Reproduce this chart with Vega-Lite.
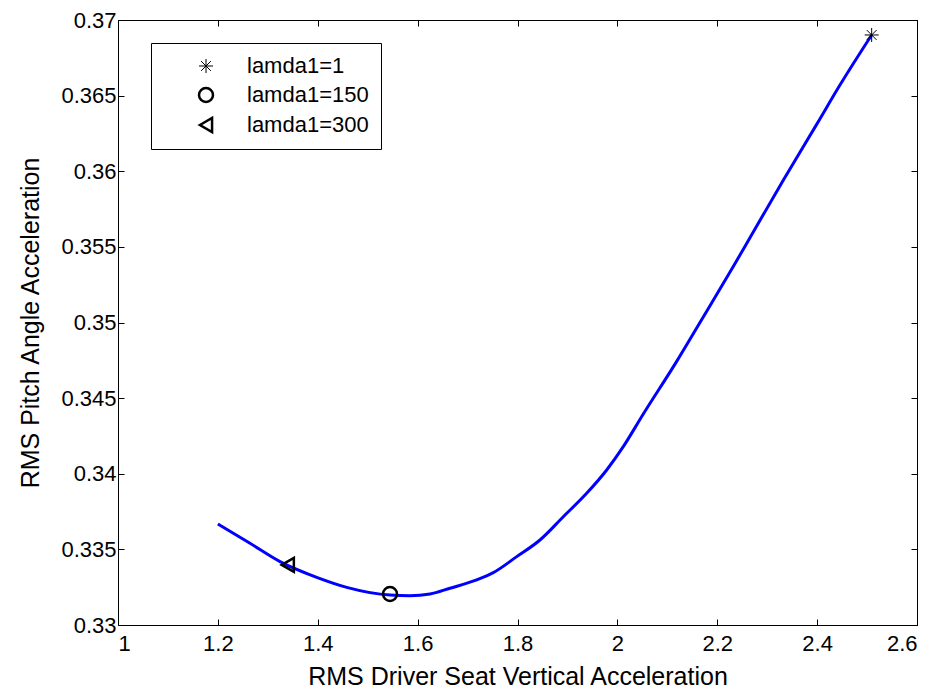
{
  "$schema": "https://vega.github.io/schema/vega-lite/v6.json",
  "autosize": {"type": "none"},
  "padding": {"left": 118, "top": 20, "right": 20, "bottom": 70},
  "width": 799,
  "height": 605,
  "background": "white",
  "config": {
    "view": {"stroke": "black", "strokeWidth": 1},
    "font": "Liberation Sans",
    "axis": {
      "grid": false,
      "domainColor": "black",
      "domainWidth": 1,
      "tickColor": "black",
      "tickWidth": 1,
      "tickSize": -6,
      "labelColor": "black",
      "labelFont": "Liberation Sans",
      "labelFontSize": 22,
      "titleFont": "Liberation Sans",
      "titleFontSize": 25,
      "titleFontWeight": "normal",
      "titleColor": "black"
    },
    "legend": {
      "labelFont": "Liberation Sans",
      "labelFontSize": 22,
      "labelColor": "black"
    }
  },
  "datasets": {
    "curve": [
      {"x": 1.2, "y": 0.33668},
      {"x": 1.2643, "y": 0.3354},
      {"x": 1.3244, "y": 0.33419},
      {"x": 1.3979, "y": 0.33315},
      {"x": 1.458, "y": 0.33249},
      {"x": 1.5447, "y": 0.33198},
      {"x": 1.5847, "y": 0.33194},
      {"x": 1.6248, "y": 0.33205},
      {"x": 1.6648, "y": 0.33243},
      {"x": 1.7183, "y": 0.33298},
      {"x": 1.7515, "y": 0.33346},
      {"x": 1.7984, "y": 0.33452},
      {"x": 1.845, "y": 0.33562},
      {"x": 1.8917, "y": 0.33716},
      {"x": 1.9385, "y": 0.33871},
      {"x": 1.9786, "y": 0.34025},
      {"x": 2.0118, "y": 0.34179},
      {"x": 2.0519, "y": 0.34395},
      {"x": 2.1188, "y": 0.34743},
      {"x": 2.1654, "y": 0.35},
      {"x": 2.2321, "y": 0.3537},
      {"x": 2.2655, "y": 0.3556},
      {"x": 2.3322, "y": 0.3594},
      {"x": 2.3991, "y": 0.3631},
      {"x": 2.4457, "y": 0.3657},
      {"x": 2.5092, "y": 0.36901}
    ],
    "markers": [
      {"x": 2.5092, "y": 0.36901, "label": "lamda1=1"},
      {"x": 1.5447, "y": 0.33205, "label": "lamda1=150"},
      {"x": 1.34, "y": 0.33397, "label": "lamda1=300"}
    ]
  },
  "layer": [
    {
      "data": {"name": "curve"},
      "mark": {"type": "line", "color": "#0000FF", "strokeWidth": 3, "clip": true, "interpolate": "monotone"},
      "encoding": {
        "x": {
          "field": "x", "type": "quantitative",
          "scale": {"domain": [1, 2.6], "nice": false, "zero": false},
          "axis": {
            "orient": "bottom",
            "title": "RMS Driver Seat Vertical Acceleration",
            "values": [1, 1.2, 1.4, 1.6, 1.8, 2, 2.2, 2.4, 2.6],
            "format": "~g",
            "labelPadding": 14,
            "titlePadding": 10
          }
        },
        "y": {
          "field": "y", "type": "quantitative",
          "scale": {"domain": [0.33, 0.37], "nice": false, "zero": false},
          "axis": {
            "orient": "left",
            "title": "RMS Pitch Angle Acceleration",
            "values": [0.33, 0.335, 0.34, 0.345, 0.35, 0.355, 0.36, 0.365, 0.37],
            "format": "~g",
            "labelPadding": 8,
            "titlePadding": 17
          }
        },
        "order": {"field": "x", "type": "quantitative"}
      }
    },
    {
      "data": {"name": "markers"},
      "mark": {"type": "point", "filled": false, "color": "black", "opacity": 1},
      "encoding": {
        "x": {
          "field": "x", "type": "quantitative",
          "scale": {"domain": [1, 2.6], "nice": false, "zero": false},
          "axis": {"orient": "top", "labels": false, "title": null, "values": [1, 1.2, 1.4, 1.6, 1.8, 2, 2.2, 2.4, 2.6]}
        },
        "y": {
          "field": "y", "type": "quantitative",
          "scale": {"domain": [0.33, 0.37], "nice": false, "zero": false},
          "axis": {"orient": "right", "labels": false, "title": null, "values": [0.33, 0.335, 0.34, 0.345, 0.35, 0.355, 0.36, 0.365, 0.37]}
        },
        "shape": {
          "field": "label", "type": "nominal",
          "scale": {
            "domain": ["lamda1=1", "lamda1=150", "lamda1=300"],
            "range": ["M-1,0L1,0M0,-1L0,1M-0.7,-0.7L0.7,0.7M-0.7,0.7L0.7,-0.7", "circle", "triangle-left"]
          },
          "legend": {
            "title": null,
            "orient": "none",
            "legendX": 33,
            "legendY": 23,
            "strokeColor": "black",
            "fillColor": "white",
            "padding": 12,
            "symbolOffset": 32,
            "labelOffset": 30,
            "rowPadding": 6,
            "symbolSize": 196,
            "symbolStrokeColor": "black"
          }
        },
        "strokeWidth": {
          "field": "label", "type": "ordinal",
          "scale": {"type": "ordinal", "domain": ["lamda1=1", "lamda1=150", "lamda1=300"], "range": [1, 2.5, 2.5]},
          "legend": {"title": null}
        },
        "size": {"value": 196}
      }
    }
  ],
  "resolve": {"axis": {"x": "independent", "y": "independent"}}
}
